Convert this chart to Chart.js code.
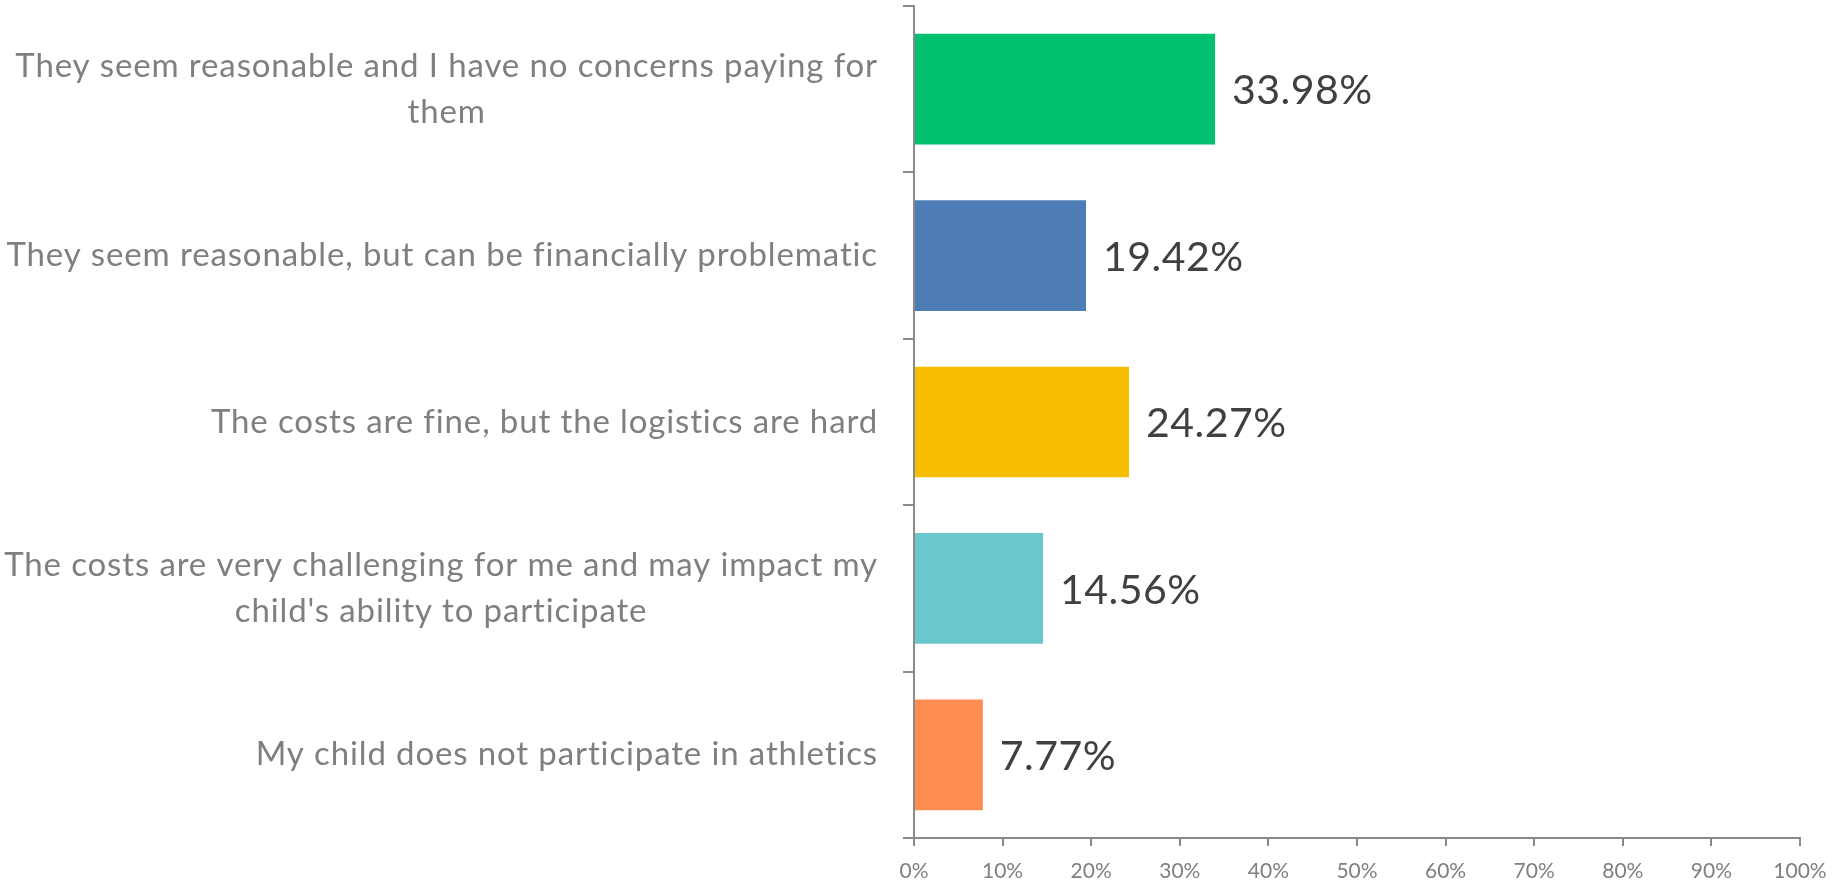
<!DOCTYPE html>
<html><head><meta charset="utf-8">
<script src="https://cdn.jsdelivr.net/npm/chart.js@4.4.1/dist/chart.umd.min.js"></script>
<style>html,body{margin:0;padding:0;background:#fff;overflow:hidden}</style>
</head><body>
<canvas id="c" width="1845" height="884" style="width:1845px;height:884px;display:block"></canvas>
<script>
const categories = [
  ["They seem reasonable and I have no concerns paying for", "them"],
  "They seem reasonable, but can be financially problematic",
  "The costs are fine, but the logistics are hard",
  ["The costs are very challenging for me and may impact my", "child's ability to participate"],
  "My child does not participate in athletics"
];
const values = [33.98, 19.42, 24.27, 14.56, 7.77];
const barColors = ['#00BF6F', '#4E7CB5', '#F7BE00', '#6AC7CB', '#FF8C50'];
const xTickValues = [0, 10, 20, 30, 40, 50, 60, 70, 80, 90, 100];

const FONT = 'Lato';
const AXIS_COLOR = '#8a8a8a';

const valueLabels = {
  id: 'valueLabels',
  afterDatasetsDraw(chart) {
    const ctx = chart.ctx;
    const meta = chart.getDatasetMeta(0);
    ctx.save();
    ctx.font = '41px ' + FONT;
    if ('letterSpacing' in ctx) ctx.letterSpacing = '0.5px';
    ctx.fillStyle = '#404040';
    ctx.textBaseline = 'middle';
    ctx.textAlign = 'left';
    meta.data.forEach((bar, i) => {
      ctx.fillText(values[i].toFixed(2) + '%', bar.x + 17, bar.y + 2);
    });
    ctx.restore();
  }
};

const yLabelStyle = {
  id: 'yLabelStyle',
  afterUpdate(chart) {
    const sc = chart.scales.y;
    if (!sc || sc.__wrapped) return;
    sc.__wrapped = true;
    const ctx = chart.ctx;
    const origCompute = sc._computeLabelItems.bind(sc);
    sc._computeLabelItems = function (area) {
      const items = origCompute(area);
      items.forEach(it => {
        if (Array.isArray(it.label) && it.label.length > 1) {
          ctx.save();
          ctx.font = it.font.string;
          if ('letterSpacing' in ctx) ctx.letterSpacing = '0.87px';
          const w = Math.max(...it.label.map(l => ctx.measureText(l).width));
          ctx.restore();
          it.options.textAlign = 'center';
          it.options.translation = [it.options.translation[0] - w / 2, it.options.translation[1]];
        }
      });
      return items;
    };
    const origDraw = sc.drawLabels.bind(sc);
    sc.drawLabels = function (area) {
      ctx.save();
      if ('letterSpacing' in ctx) ctx.letterSpacing = '0.87px';
      origDraw(area);
      ctx.restore();
    };
  }
};

function build() {
  new Chart(document.getElementById('c'), {
    type: 'bar',
    data: {
      labels: categories,
      datasets: [{
        data: values,
        backgroundColor: barColors,
        borderWidth: 0,
        barPercentage: 0.665,
        categoryPercentage: 1.0
      }]
    },
    options: {
      indexAxis: 'y',
      responsive: false,
      animation: false,
      devicePixelRatio: 1,
      layout: { padding: { top: 6, right: 45, left: 0, bottom: 0 } },
      plugins: { legend: { display: false }, tooltip: { enabled: false } },
      scales: {
        x: {
          min: 0, max: 100,
          afterBuildTicks(scale) { scale.ticks = xTickValues.map(v => ({ value: v })); },
          afterFit(scale) { scale.height = 46; scale.paddingLeft = 0; scale.paddingRight = 0; },
          grid: { drawOnChartArea: false, drawTicks: true, tickLength: 8, color: AXIS_COLOR, lineWidth: 2 },
          border: { display: true, color: AXIS_COLOR, width: 2 },
          ticks: {
            callback: v => v + '%',
            font: { family: FONT, size: 21 },
            color: '#7f7f7f',
            padding: 13,
            maxRotation: 0,
            autoSkip: false
          }
        },
        y: {
          afterFit(scale) { scale.width = 914; scale.paddingTop = 0; scale.paddingBottom = 0; },
          grid: { drawOnChartArea: false, drawTicks: true, tickLength: 11, color: AXIS_COLOR, lineWidth: 2, offset: true },
          border: { display: true, color: AXIS_COLOR, width: 2 },
          ticks: {
            font: { family: FONT, size: 33, lineHeight: 1.38 },
            color: '#7f7f7f',
            padding: 25,
            autoSkip: false
          }
        }
      }
    },
    plugins: [yLabelStyle, valueLabels]
  });
}

if (document.fonts && document.fonts.load) {
  Promise.all([document.fonts.load('33px ' + FONT), document.fonts.load('41px ' + FONT)])
    .then(build, build);
} else { build(); }
</script>
</body></html>
